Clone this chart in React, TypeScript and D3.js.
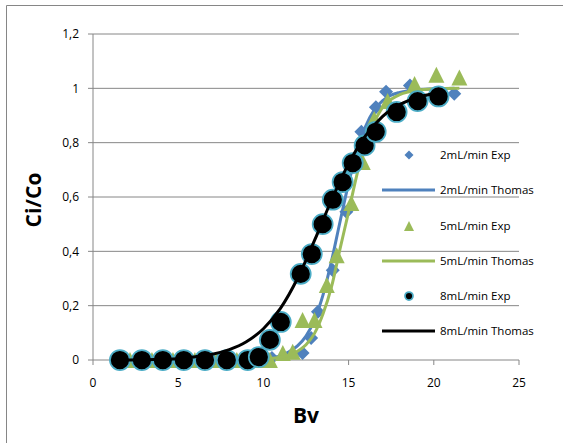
import React from "react";
import * as d3 from "d3";

// ---- data ----
const bv2Exp = [1.58, 2.87, 4.1, 5.33, 6.57, 7.85, 9.08, 10.5, 12.3, 12.8, 13.2, 14.07, 14.87, 15.75, 16.6, 17.2, 18.6, 21.2];
const c2Exp = [0, 0, 0, 0, 0, 0, 0, 0.007, 0.026, 0.081, 0.178, 0.33, 0.546, 0.84, 0.93, 0.987, 1.01, 0.98];

const bv2Th = [1.58, 9, 10, 11, 11.5, 12, 12.5, 13, 13.5, 14, 14.5, 15, 15.5, 16, 16.5, 17, 17.5, 18, 19, 20, 21.2];
const c2Th = [0, 0.001, 0.004, 0.015, 0.03, 0.052, 0.088, 0.148, 0.24, 0.365, 0.51, 0.65, 0.77, 0.86, 0.92, 0.955, 0.975, 0.985, 0.995, 0.998, 1.0];

const bv5Exp = [2.17, 3.46, 4.69, 5.98, 7.27, 8.44, 9.67, 10.38, 11.14, 11.72, 12.3, 13.0, 13.72, 14.3, 15.16, 15.83, 16.5, 17.29, 18.87, 20.15, 21.5];
const c5Exp = [0, 0, 0, 0, 0, 0, 0, 0, 0.026, 0.03, 0.147, 0.147, 0.276, 0.386, 0.578, 0.729, 0.887, 0.953, 1.016, 1.05, 1.04];

const bv5Th = [2.17, 9, 10, 11, 11.5, 12, 12.5, 13, 13.5, 14, 14.5, 15, 15.5, 16, 16.5, 17, 17.5, 18, 19, 20, 21.5];
const c5Th = [0, 0.001, 0.003, 0.01, 0.018, 0.032, 0.056, 0.098, 0.17, 0.27, 0.41, 0.545, 0.685, 0.8, 0.875, 0.93, 0.96, 0.977, 0.993, 0.998, 1.0];

const bv8Exp = [1.58, 2.87, 4.1, 5.33, 6.57, 7.85, 9.08, 9.73, 10.38, 11.02, 12.19, 12.84, 13.48, 14.07, 14.65, 15.24, 15.94, 16.59, 17.82, 19.05, 20.28];
const c8Exp = [0, 0, 0, 0, 0, 0, 0, 0.011, 0.074, 0.14, 0.317, 0.39, 0.5, 0.59, 0.655, 0.725, 0.79, 0.84, 0.913, 0.953, 0.97];

const bv8Th = [1.58, 5, 6, 7, 8, 9, 10, 11, 12, 13, 14, 15, 16, 17, 18, 19, 20.28];
const c8Th = [0, 0.005, 0.012, 0.021, 0.038, 0.067, 0.115, 0.19, 0.3, 0.44, 0.589, 0.723, 0.826, 0.897, 0.94, 0.966, 0.984];

const xTicks = [0, 5, 10, 15, 20, 25];
const yTicks = [0, 0.2, 0.4, 0.6, 0.8, 1, 1.2];

const legendLabels = [
  "2mL/min Exp",
  "2mL/min Thomas",
  "5mL/min Exp",
  "5mL/min Thomas",
  "8mL/min Exp",
  "8mL/min Thomas",
];

const BLUE = "#4F81BD";
const GREEN = "#9BBB59";
const TEAL = "#4BACC6";
const GRID = "#868686";
const FONT = "'Open Sans', 'Liberation Sans', sans-serif";

export default function App() {
  const W = 563;
  const H = 443;
  const x = d3.scaleLinear().domain([0, 25]).range([93, 519]);
  const y = d3.scaleLinear().domain([0, 1.2]).range([360, 34]);

  const zip = (a: number[], b: number[]) => a.map((v, i) => [v, b[i]] as [number, number]);
  const line = d3
    .line<[number, number]>()
    .x((d) => x(d[0]))
    .y((d) => y(d[1]))
    .curve(d3.curveMonotoneX);

  const diamond = (cx: number, cy: number, r: number) =>
    `M${cx},${cy - r}L${cx + r},${cy}L${cx},${cy + r}L${cx - r},${cy}Z`;
  const triangle = (cx: number, cy: number, w: number) =>
    `M${cx},${cy - w / 2}L${cx + w / 2},${cy + w / 2}L${cx - w / 2},${cy + w / 2}Z`;

  const legendY = [155, 190, 226, 261, 296, 331];

  return (
    <svg
      width={W}
      height={H}
      style={{ position: "absolute", left: 0, top: 0, background: "#fff" }}
      fontFamily={FONT}
    >
      <rect x={0} y={0} width={W} height={H} fill="#fff" />
      {/* outer frame */}
      <path d={`M6.5,${H}V5.5H${W}`} fill="none" stroke={GRID} strokeWidth={1} />

      {/* gridlines */}
      {yTicks.map((t) => (
        <line key={"g" + t} x1={x(0)} x2={x(25)} y1={y(t)} y2={y(t)} stroke={GRID} strokeWidth={1} />
      ))}
      {/* y axis */}
      <line x1={x(0)} x2={x(0)} y1={y(1.2)} y2={y(0)} stroke={GRID} strokeWidth={1} />
      {yTicks.map((t) => (
        <g key={"yt" + t}>
          <line x1={x(0) - 5} x2={x(0)} y1={y(t)} y2={y(t)} stroke={GRID} />
          <text x={79} y={y(t)} dy="0.35em" textAnchor="end" fontSize={12} fill="#000">
            {String(t).replace(".", ",")}
          </text>
        </g>
      ))}
      {/* x axis */}
      {xTicks.map((t) => (
        <g key={"xt" + t}>
          <line x1={x(t)} x2={x(t)} y1={y(0)} y2={y(0) + 5} stroke={GRID} />
          <text x={x(t)} y={387} textAnchor="middle" fontSize={12} fill="#000">
            {t}
          </text>
        </g>
      ))}

      {/* series */}
      {zip(bv2Exp, c2Exp).map((d, i) => (
        <path key={"d2" + i} d={diamond(x(d[0]), y(d[1]), 7)} fill={BLUE} />
      ))}
      <path d={line(zip(bv2Th, c2Th)) || ""} fill="none" stroke={BLUE} strokeWidth={3} />
      {zip(bv5Exp, c5Exp).map((d, i) => (
        <path key={"t5" + i} d={triangle(x(d[0]), y(d[1]), 16)} fill={GREEN} />
      ))}
      <path d={line(zip(bv5Th, c5Th)) || ""} fill="none" stroke={GREEN} strokeWidth={3} />
      {zip(bv8Exp, c8Exp).map((d, i) => (
        <circle key={"c8" + i} cx={x(d[0])} cy={y(d[1])} r={10} fill="#000" stroke={TEAL} strokeWidth={1.75} />
      ))}
      <path d={line(zip(bv8Th, c8Th)) || ""} fill="none" stroke="#000" strokeWidth={3} />

      {/* legend */}
      <g>
        <path d={diamond(409, legendY[0], 4.5)} fill={BLUE} />
        <line x1={382} x2={435} y1={legendY[1]} y2={legendY[1]} stroke={BLUE} strokeWidth={3} />
        <path d={triangle(409, legendY[2], 10)} fill={GREEN} />
        <line x1={382} x2={435} y1={legendY[3]} y2={legendY[3]} stroke={GREEN} strokeWidth={3} />
        <circle cx={409} cy={legendY[4]} r={4} fill="#000" stroke={TEAL} strokeWidth={1.75} />
        <line x1={382} x2={435} y1={legendY[5]} y2={legendY[5]} stroke="#000" strokeWidth={3} />
        {legendLabels.map((l, i) => (
          <text key={l} x={440} y={legendY[i]} dy="0.35em" fontSize={11.5} fill="#000">
            {l}
          </text>
        ))}
      </g>

      {/* axis titles */}
      <text x={306} y={423} textAnchor="middle" fontSize={21} fontWeight="bold" fill="#000">
        Bv
      </text>
      <text
        transform={`translate(41,${200}) rotate(-90)`}
        textAnchor="middle"
        fontSize={21}
        fontWeight="bold"
        fill="#000"
      >
        Ci/Co
      </text>
    </svg>
  );
}
